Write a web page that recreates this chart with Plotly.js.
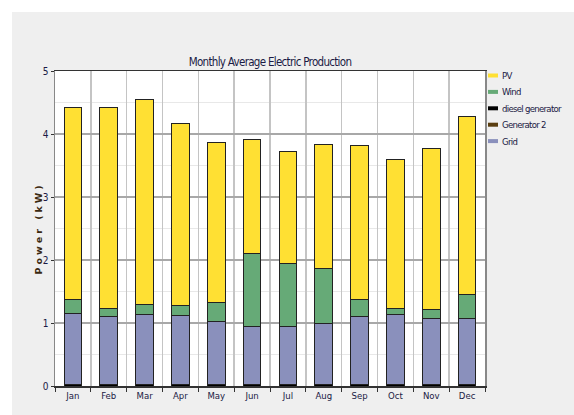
<!DOCTYPE html>
<html>
<head>
<meta charset="utf-8">
<script src="https://cdn.plot.ly/plotly-3.0.1.min.js"></script>
<style>
  html, body { margin: 0; padding: 0; background: #ffffff; }
  #chart { position: absolute; left: 12px; top: 12px; width: 562px; height: 403px; }
</style>
</head>
<body>
<div id="chart"></div>
<script>
const months = ["Jan","Feb","Mar","Apr","May","Jun","Jul","Aug","Sep","Oct","Nov","Dec"];
const diesel = [0.02,0.02,0.02,0.02,0.02,0.02,0.02,0.02,0.02,0.02,0.02,0.02];
const generator2 = [0,0,0,0,0,0,0,0,0,0,0,0];
const grid = [1.13,1.08,1.11,1.10,1.00,0.93,0.93,0.98,1.08,1.11,1.05,1.05];
const wind = [0.23,0.13,0.16,0.16,0.31,1.15,0.99,0.86,0.28,0.10,0.14,0.39];
const pv = [3.04,3.19,3.26,2.89,2.54,1.82,1.78,1.98,2.43,2.36,2.56,2.82];

const seriesNames = ["PV","Wind","diesel generator","Generator 2","Grid"];
const seriesColors = ["#ffe033","#66aa77","#000000","#5a3e10","#8a90bc"];
const stackOrder = [
  {name:"diesel generator", y: diesel, color:"#000000"},
  {name:"Generator 2", y: generator2, color:"#5a3e10"},
  {name:"Grid", y: grid, color:"#8a90bc"},
  {name:"Wind", y: wind, color:"#66aa77"},
  {name:"PV", y: pv, color:"#ffe033"}
];

const FONT = "DejaVu Sans Condensed, Liberation Sans Narrow, sans-serif";
const TXT = "#1a1a44";
const traces = stackOrder.map(s => ({
  type: "bar", x: months, y: s.y, name: s.name, showlegend: false,
  marker: {color: s.color, line: {color: "#222222", width: 1}},
  hoverinfo: "x+y+name"
}));

// custom legend (short line symbols + text)
const shapes = [];
const annotations = [];
seriesNames.forEach((n, i) => {
  const yy = 1 - (i * 16.4 + 4.5) / 315;
  shapes.push({type: "line", xref: "paper", yref: "paper",
    x0: 1 + 3/430, x1: 1 + 13/430, y0: yy, y1: yy,
    line: {color: seriesColors[i], width: 4}});
  annotations.push({xref: "paper", yref: "paper", x: 1 + 15/430, y: yy,
    xanchor: "left", yanchor: "middle",
    text: '<span style="letter-spacing:-0.7px">' + n + '</span>', showarrow: false,
    font: {family: FONT, size: 9.5, color: TXT}});
});
// y axis title
annotations.push({xref: "paper", yref: "paper", x: -17/430, y: 0.5,
  xanchor: "center", yanchor: "middle", textangle: -90, showarrow: false,
  text: '<span style="letter-spacing:3px">Power (kW)</span>',
  font: {family: "DejaVu Sans, sans-serif", size: 9.5, weight: "bold", color: "#3a2810"}});

const layout = {
  width: 562, height: 403,
  margin: {l: 43, r: 89, t: 59, b: 29},
  paper_bgcolor: "#efefef", plot_bgcolor: "#ffffff",
  barmode: "stack", bargap: 0.51,
  showlegend: false,
  font: {family: FONT, size: 9, color: TXT},
  title: {text: '<span style="letter-spacing:-0.7px">Monthly Average Electric Production</span>',
    x: 0.5, xref: "paper", y: 1, yref: "paper", yanchor: "bottom", pad: {b: 5},
    font: {family: FONT, size: 11.5, color: TXT}},
  xaxis: {
    type: "category", tickson: "boundaries", ticks: "outside", ticklen: 4,
    tickcolor: "#333", showgrid: true, gridcolor: "#c4c4c4", gridwidth: 1.5,
    showline: true, linecolor: "#333", linewidth: 1.5, mirror: true,
    tickfont: {family: FONT, size: 9.5, color: TXT}, fixedrange: true
  },
  yaxis: {
    range: [0, 5], dtick: 1, ticks: "outside", ticklen: 3, tickcolor: "#333",
    showgrid: true, gridcolor: "#a8a8a8", gridwidth: 1.5,
    minor: {dtick: 0.5, showgrid: true, gridcolor: "#e8e8e8", gridwidth: 1.5},
    showline: true, linecolor: "#888", linewidth: 1.5, mirror: true,
    zeroline: false,
    tickfont: {family: FONT, size: 10, color: TXT}, fixedrange: true
  },
  shapes: shapes,
  annotations: annotations
};

Plotly.newPlot("chart", traces, layout, {displayModeBar: false, staticPlot: true});
</script>
</body>
</html>
